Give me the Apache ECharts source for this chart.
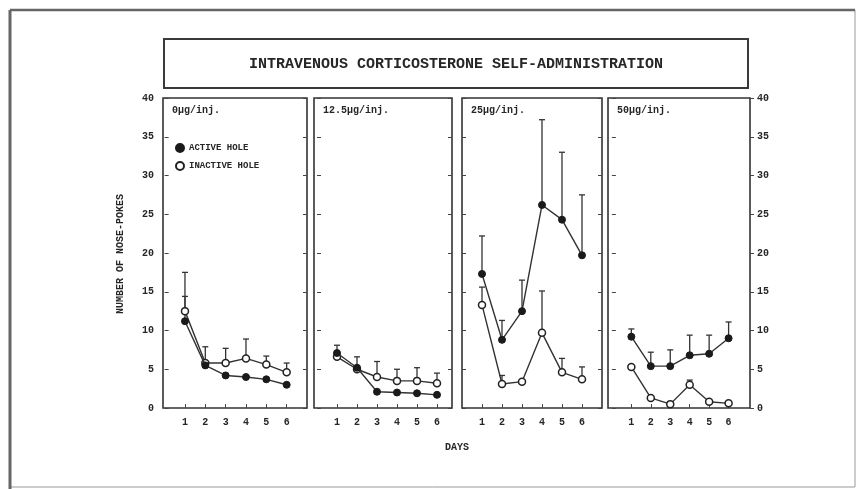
<!DOCTYPE html>
<html><head><meta charset="utf-8">
<script src="https://cdn.jsdelivr.net/npm/echarts@6/dist/echarts.min.js"></script>
<style>html,body{margin:0;padding:0;background:#fff}#c{width:866px;height:489px}</style>
</head><body><div id="c"></div>
<script>
// ---- data ----
const days = [1, 2, 3, 4, 5, 6];
const panelLabels = ['0µg/inj.', '12.5µg/inj.', '25µg/inj.', '50µg/inj.'];
const seriesNames = ['ACTIVE HOLE', 'INACTIVE HOLE'];
const titleText = 'INTRAVENOUS CORTICOSTERONE SELF-ADMINISTRATION';
const yAxisTitle = 'NUMBER OF NOSE-POKES';
const xAxisTitle = 'DAYS';
const yMin = 0, yMax = 40, yStep = 5;

// dose 0 µg/inj.
const active0 = [11.2, 5.5, 4.2, 4.0, 3.7, 3.0];
const activeUpper0 = [14.4, null, null, null, null, null];
const inactive0 = [12.5, 5.8, 5.8, 6.4, 5.6, 4.6];
const inactiveUpper0 = [17.5, 7.9, 7.7, 8.9, 6.7, 5.8];
// dose 12.5 µg/inj.
const active12 = [7.1, 5.2, 2.1, 2.0, 1.9, 1.7];
const activeUpper12 = [8.1, null, null, null, null, null];
const inactive12 = [6.6, 5.0, 4.0, 3.5, 3.5, 3.2];
const inactiveUpper12 = [null, 6.6, 6.0, 5.0, 5.2, 4.5];
// dose 25 µg/inj.
const active25 = [17.3, 8.8, 12.5, 26.2, 24.3, 19.7];
const activeUpper25 = [22.2, 11.3, 16.5, 37.2, 33.0, 27.5];
const inactive25 = [13.3, 3.1, 3.4, 9.7, 4.6, 3.7];
const inactiveUpper25 = [15.6, 4.2, null, 15.1, 6.4, 5.3];
// dose 50 µg/inj.
const active50 = [9.2, 5.4, 5.4, 6.8, 7.0, 9.0];
const activeUpper50 = [10.2, 7.2, 7.5, 9.4, 9.4, 11.1];
const inactive50 = [5.3, 1.3, 0.5, 3.0, 0.8, 0.6];
const inactiveUpper50 = [null, null, null, 3.6, null, null];

const activeSets = [active0, active12, active25, active50];
const activeUppers = [activeUpper0, activeUpper12, activeUpper25, activeUpper50];
const inactiveSets = [inactive0, inactive12, inactive25, inactive50];
const inactiveUppers = [inactiveUpper0, inactiveUpper12, inactiveUpper25, inactiveUpper50];

// ---- layout ----
const gridLefts = [163, 314, 462, 608];
const gridWidths = [144, 138, 140, 142];
const xMins = [-0.08, -0.15, 0, -0.2];
const xMaxs = [7.0, 6.75, 7.0, 7.1];
const FONT = 'Liberation Mono';
const INK = '#262626';

const chart = echarts.init(document.getElementById('c'), null, {renderer: 'canvas'});

const grids = [], xAxes = [], yAxes = [], series = [], titles = [];
for (let i = 0; i < 4; i++) {
  grids.push({left: gridLefts[i], width: gridWidths[i], top: 98, height: 310,
    show: true, borderColor: '#333', borderWidth: 1.6, backgroundColor: '#fff'});
  xAxes.push({type: 'value', gridIndex: i, min: xMins[i], max: xMaxs[i],
    axisLine: {show: false}, splitLine: {show: false},
    axisTick: {show: true, inside: true, length: 4, customValues: days, lineStyle: {color: '#444'}},
    axisLabel: {customValues: days, margin: 9, fontFamily: FONT, fontWeight: 'bold', fontSize: 10, color: INK}});
  yAxes.push({type: 'value', gridIndex: i, min: yMin, max: yMax, interval: yStep, position: 'left',
    axisLine: {show: false}, splitLine: {show: false},
    axisTick: {show: true, inside: true, length: 4, lineStyle: {color: '#444'}},
    axisLabel: {show: i === 0, margin: 9, fontFamily: FONT, fontWeight: 'bold', fontSize: 10, color: INK}});
  yAxes.push({type: 'value', gridIndex: i, min: yMin, max: yMax, interval: yStep, position: 'right',
    axisLine: {show: false}, splitLine: {show: false},
    axisTick: {show: true, inside: i !== 3, length: 4, lineStyle: {color: '#444'}},
    axisLabel: {show: i === 3, margin: 7, fontFamily: FONT, fontWeight: 'bold', fontSize: 10, color: INK}});
  titles.push({text: panelLabels[i], left: gridLefts[i] + 4, top: 100,
    textStyle: {fontFamily: FONT, fontWeight: 'bold', fontSize: 10, color: INK}});

  const mk = (means, uppers) => days.map((d, k) => [d, means[k], uppers[k]]).filter(r => r[2] != null);
  const errRender = (params, api) => {
    const p0 = api.coord([api.value(0), api.value(1)]);
    const p1 = api.coord([api.value(0), api.value(2)]);
    const cw = 3;
    return {type: 'group', children: [
      {type: 'line', shape: {x1: p0[0], y1: p0[1], x2: p1[0], y2: p1[1]}, style: {stroke: '#333', lineWidth: 1.3}},
      {type: 'line', shape: {x1: p1[0] - cw, y1: p1[1], x2: p1[0] + cw, y2: p1[1]}, style: {stroke: '#333', lineWidth: 1.3}}
    ]};
  };
  series.push({type: 'custom', xAxisIndex: i, yAxisIndex: 2 * i, renderItem: errRender,
    data: mk(activeSets[i], activeUppers[i]), encode: {x: 0, y: [1, 2]}, z: 1, silent: true});
  series.push({type: 'custom', xAxisIndex: i, yAxisIndex: 2 * i, renderItem: errRender,
    data: mk(inactiveSets[i], inactiveUppers[i]), encode: {x: 0, y: [1, 2]}, z: 1, silent: true});
  series.push({name: seriesNames[1], type: 'line', xAxisIndex: i, yAxisIndex: 2 * i,
    data: days.map((d, k) => [d, inactiveSets[i][k]]),
    symbol: 'circle', symbolSize: 7, z: 3,
    lineStyle: {color: '#333', width: 1.4},
    itemStyle: {color: '#fff', borderColor: '#222', borderWidth: 1.5}});
  series.push({name: seriesNames[0], type: 'line', xAxisIndex: i, yAxisIndex: 2 * i,
    data: days.map((d, k) => [d, activeSets[i][k]]),
    symbol: 'circle', symbolSize: 7, z: 4,
    lineStyle: {color: '#333', width: 1.4},
    itemStyle: {color: '#1a1a1a', borderColor: '#1a1a1a', borderWidth: 1}});
}

chart.setOption({
  backgroundColor: '#fff',
  animation: false,
  title: titles,
  legend: {data: seriesNames, orient: 'vertical', left: 170, top: 138, itemWidth: 8, itemHeight: 8, itemGap: 8,
    icon: 'circle', textStyle: {fontFamily: FONT, fontWeight: 'bold', fontSize: 9, color: INK}, selectedMode: false},
  grid: grids, xAxis: xAxes, yAxis: yAxes, series: series,
  graphic: [
    {type: 'rect', shape: {x: 10, y: 10, width: 845, height: 477}, style: {fill: 'none', stroke: '#9a9a9a', lineWidth: 1}, silent: true},
    {type: 'line', shape: {x1: 10, y1: 10, x2: 10, y2: 489}, style: {stroke: '#666', lineWidth: 3}, silent: true},
    {type: 'line', shape: {x1: 10, y1: 10, x2: 855, y2: 10}, style: {stroke: '#666', lineWidth: 2.5}, silent: true},
    {type: 'rect', shape: {x: 164, y: 39, width: 584, height: 49}, style: {fill: '#fff', stroke: '#3a3a3a', lineWidth: 2}, silent: true},
    {type: 'text', x: 456, y: 64, style: {text: titleText, fontFamily: FONT, fontWeight: 'bold', fontSize: 15, fill: INK, textAlign: 'center', textVerticalAlign: 'middle'}, silent: true},
    {type: 'text', x: 120, y: 254, rotation: Math.PI / 2, style: {text: yAxisTitle, fontFamily: FONT, fontWeight: 'bold', fontSize: 10, fill: INK, textAlign: 'center', textVerticalAlign: 'middle'}, silent: true},
    {type: 'text', x: 457, y: 447, style: {text: xAxisTitle, fontFamily: FONT, fontWeight: 'bold', fontSize: 10, fill: INK, textAlign: 'center', textVerticalAlign: 'middle'}, silent: true}
  ]
});
</script></body></html>
